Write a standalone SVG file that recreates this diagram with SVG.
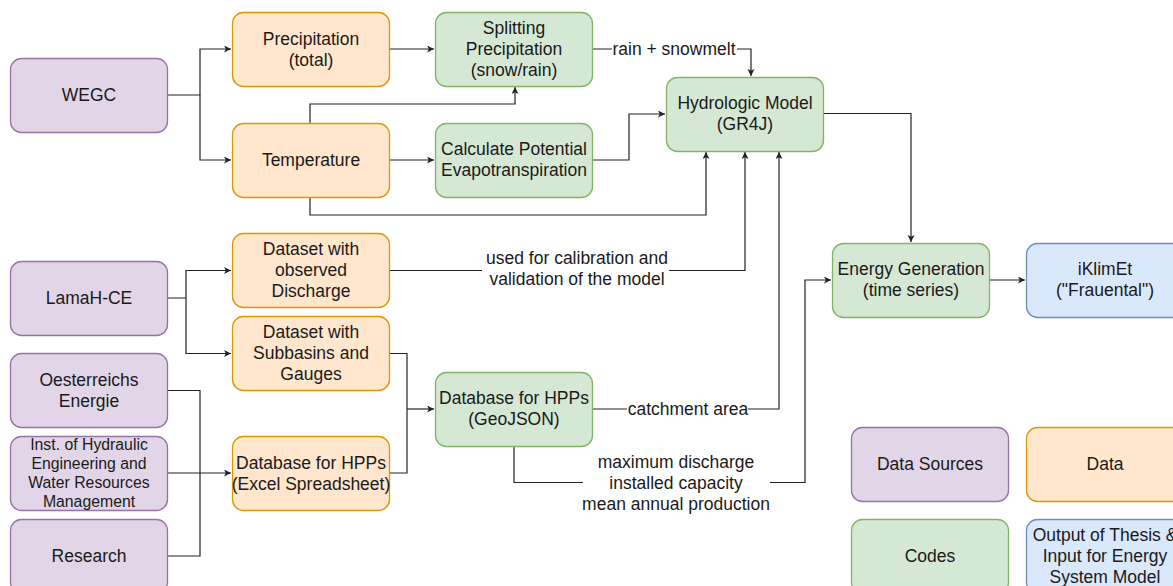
<svg xmlns="http://www.w3.org/2000/svg" width="1173" height="586" viewBox="0 0 1173 586">
<style>
.n rect{stroke-width:1.3}
.src rect{fill:#e1d5e7;stroke:#9673a6}
.dat rect{fill:#ffe6cc;stroke:#d79b00}
.cod rect{fill:#d5e8d4;stroke:#82b366}
.out rect{fill:#dae8fc;stroke:#6c8ebf}
text{font-family:"Liberation Sans",Arial,sans-serif;font-size:17.5px;fill:#1a1a1a;text-anchor:middle}
.sm{font-size:15.8px}
#edges path{fill:none;stroke:#222;stroke-width:1.2}
.lbg{fill:#ffffff;stroke:none}
</style>
<defs>
<marker id="ah" markerUnits="userSpaceOnUse" markerWidth="8" markerHeight="8" refX="7" refY="3.5" orient="auto">
<path d="M0,0 L7,3.5 L0,7 L1.8,3.5 Z" fill="#222"/>
</marker>
</defs>
<rect width="1173" height="586" fill="#ffffff"/>

<g id="edges">
<path d="M167,95 H200 V49 H231" marker-end="url(#ah)"/>
<path d="M200,95 V160 H231" marker-end="url(#ah)"/>
<path d="M389,49 H434" marker-end="url(#ah)"/>
<path d="M310,123 V104 H515 V87" marker-end="url(#ah)"/>
<path d="M389,160 H434" marker-end="url(#ah)"/>
<path d="M310,197 V215 H706 V152" marker-end="url(#ah)"/>
<path d="M592,49 H751 V76" marker-end="url(#ah)"/>
<path d="M592,160 H629 V114 H665" marker-end="url(#ah)"/>
<path d="M389,270.5 H745 V152" marker-end="url(#ah)"/>
<path d="M592,409 H779 V152" marker-end="url(#ah)"/>
<path d="M514,446 V482.5 H805 V280 H831" marker-end="url(#ah)"/>
<path d="M823,113.5 H911 V242" marker-end="url(#ah)"/>
<path d="M989,280 H1025" marker-end="url(#ah)"/>
<path d="M167,298 H186 V270.5 H231" marker-end="url(#ah)"/>
<path d="M186,298 V353.5 H231" marker-end="url(#ah)"/>
<path d="M167,390.5 H200 V556 H167"/>
<path d="M167,473 H231" marker-end="url(#ah)"/>
<path d="M389,353.5 H407 V473 H389"/>
<path d="M407,409 H434" marker-end="url(#ah)"/>
<rect class="lbg" x="612" y="38" width="125" height="22"/>
<text x="674" y="55">rain + snowmelt</text>
<rect class="lbg" x="482" y="248" width="187" height="42"/>
<text x="577" y="264">used for calibration and</text>
<text x="577" y="285">validation of the model</text>
<rect class="lbg" x="627" y="398" width="121" height="22"/>
<text x="688" y="415">catchment area</text>
<rect class="lbg" x="583" y="450" width="187" height="66"/>
<text x="676" y="468">maximum discharge</text>
<text x="676" y="489">installed capacity</text>
<text x="676" y="510">mean annual production</text>
</g>

<g id="wegc" class="n src"><rect x="10.5" y="58.5" width="157" height="74" rx="11"/><text x="89" y="101">WEGC</text></g>
<g id="precip" class="n dat"><rect x="232.5" y="12.5" width="157" height="74" rx="11"/><text x="311" y="45"><tspan x="311">Precipitation</tspan><tspan x="311" dy="21">(total)</tspan></text></g>
<g id="temp" class="n dat"><rect x="232.5" y="123.5" width="157" height="74" rx="11"/><text x="311" y="166">Temperature</text></g>
<g id="split" class="n cod"><rect x="435.5" y="12.5" width="157" height="74" rx="11"/><text x="514" y="34"><tspan x="514">Splitting</tspan><tspan x="514" dy="21">Precipitation</tspan><tspan x="514" dy="21">(snow/rain)</tspan></text></g>
<g id="pet" class="n cod"><rect x="435.5" y="123.5" width="157" height="74" rx="11"/><text x="514" y="155"><tspan x="514">Calculate Potential</tspan><tspan x="514" dy="21">Evapotranspiration</tspan></text></g>
<g id="hydro" class="n cod"><rect x="666.5" y="77.5" width="157" height="74" rx="11"/><text x="745" y="109"><tspan x="745">Hydrologic Model</tspan><tspan x="745" dy="21">(GR4J)</tspan></text></g>
<g id="lamah" class="n src"><rect x="10.5" y="261.5" width="157" height="74" rx="11"/><text x="89" y="304">LamaH-CE</text></g>
<g id="obs" class="n dat"><rect x="232.5" y="233.5" width="157" height="74" rx="11"/><text x="311" y="255"><tspan x="311">Dataset with</tspan><tspan x="311" dy="21">observed</tspan><tspan x="311" dy="21">Discharge</tspan></text></g>
<g id="subb" class="n dat"><rect x="232.5" y="316.5" width="157" height="74" rx="11"/><text x="311" y="338"><tspan x="311">Dataset with</tspan><tspan x="311" dy="21">Subbasins and</tspan><tspan x="311" dy="21">Gauges</tspan></text></g>
<g id="oe" class="n src"><rect x="10.5" y="353.5" width="157" height="74" rx="11"/><text x="89" y="386"><tspan x="89">Oesterreichs</tspan><tspan x="89" dy="21">Energie</tspan></text></g>
<g id="inst" class="n src"><rect x="10.5" y="436.5" width="157" height="74" rx="11"/><text class="sm" x="89" y="450"><tspan x="89">Inst. of Hydraulic</tspan><tspan x="89" dy="19">Engineering and</tspan><tspan x="89" dy="19">Water Resources</tspan><tspan x="89" dy="19">Management</tspan></text></g>
<g id="research" class="n src"><rect x="10.5" y="519.5" width="157" height="74" rx="11"/><text x="89" y="562">Research</text></g>
<g id="excel" class="n dat"><rect x="232.5" y="436.5" width="157" height="74" rx="11"/><text x="311" y="469"><tspan x="311">Database for HPPs</tspan><tspan x="311" dy="21">(Excel Spreadsheet)</tspan></text></g>
<g id="geojson" class="n cod"><rect x="435.5" y="372.5" width="157" height="74" rx="11"/><text x="514" y="404"><tspan x="514">Database for HPPs</tspan><tspan x="514" dy="21">(GeoJSON)</tspan></text></g>
<g id="energy" class="n cod"><rect x="832.5" y="243.5" width="157" height="74" rx="11"/><text x="911" y="275"><tspan x="911">Energy Generation</tspan><tspan x="911" dy="21">(time series)</tspan></text></g>
<g id="iklimet" class="n out"><rect x="1026.5" y="243.5" width="157" height="74" rx="11"/><text x="1105" y="275"><tspan x="1105">iKlimEt</tspan><tspan x="1105" dy="21">("Frauental")</tspan></text></g>
<g id="leg-src" class="n src"><rect x="851.5" y="427.5" width="157" height="74" rx="11"/><text x="930" y="470">Data Sources</text></g>
<g id="leg-dat" class="n dat"><rect x="1026.5" y="427.5" width="157" height="74" rx="11"/><text x="1105" y="470">Data</text></g>
<g id="leg-cod" class="n cod"><rect x="851.5" y="519.5" width="157" height="74" rx="11"/><text x="930" y="562">Codes</text></g>
<g id="leg-out" class="n out"><rect x="1026.5" y="519.5" width="157" height="74" rx="11"/><text x="1105" y="541"><tspan x="1105">Output of Thesis &amp;</tspan><tspan x="1105" dy="21">Input for Energy</tspan><tspan x="1105" dy="21">System Model</tspan></text></g>
</svg>
